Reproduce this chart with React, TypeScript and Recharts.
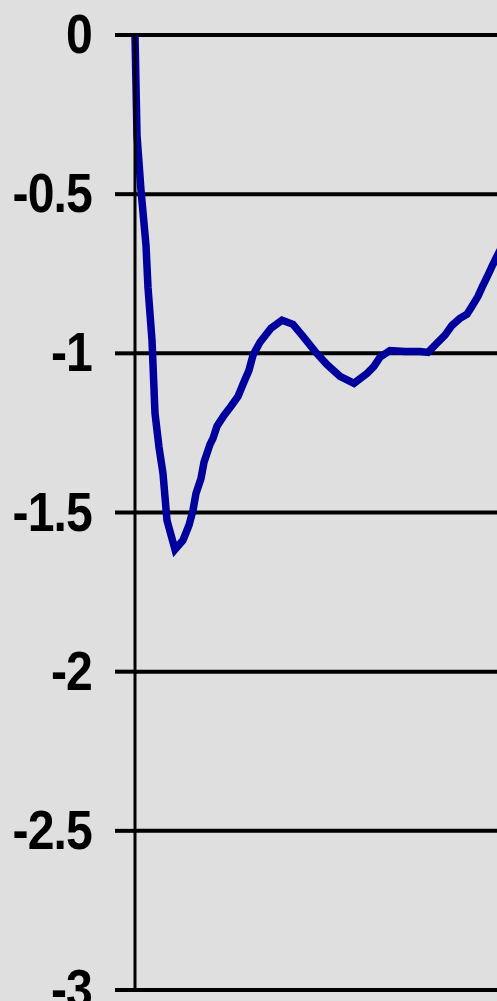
import React from "react";
import { LineChart, Line, XAxis, YAxis, CartesianGrid } from "recharts";

// x positions (arbitrary time units) and values
const xValues: number[] = [
    0, 0.2, 0.6, 1.1, 1.3, 1.7, 2.0, 2.4, 2.8, 3.2, 4.0, 4.8, 5.4, 5.8, 6.1, 6.6, 6.9, 7.5, 7.8, 8.2,
    8.9, 9.6, 10.3, 10.8, 11.4, 11.8, 12.5, 13.6, 14.7, 15.8, 16.8, 18.0, 19.2, 20.5, 21.9, 23.2, 23.9,
    24.5, 25.5, 27.0, 28.5, 29.3, 30.3, 31.0, 31.7, 32.5, 33.2, 33.7, 34.3, 34.7, 35.2, 35.7, 36.2, 37.0,
];

const yValues: number[] = [
    0, -0.315, -0.488, -0.661, -0.793, -0.959, -1.188, -1.295, -1.377, -1.525, -1.616, -1.587, -1.54,
    -1.493, -1.44, -1.393, -1.342, -1.286, -1.267, -1.229, -1.195, -1.166, -1.135, -1.097, -1.053,
    -1.006, -0.965, -0.921, -0.896, -0.909, -0.947, -0.994, -1.035, -1.072, -1.094, -1.063, -1.041,
    -1.012, -0.991, -0.994, -0.994, -0.997, -0.965, -0.943, -0.912, -0.89, -0.877, -0.852, -0.821,
    -0.793, -0.761, -0.727, -0.695, -0.645,
];

const yTicks: number[] = [0, -0.5, -1, -1.5, -2, -2.5, -3];

const data = xValues.map((x, i) => ({ x, y: yValues[i] }));

// narrow bold labels like the old spreadsheet rendering
const YTick = (props: any) => {
    const { x, y, payload } = props;
    return (
        <g transform={`translate(${x},${y})`}>
            <text
                transform="scale(0.86,1)"
                x={0}
                y={0}
                dy={18}
                textAnchor="end"
                fill="#000"
                fontSize={56}
                fontWeight="bold"
                letterSpacing={-1}
                fontFamily="Liberation Sans, Arial, sans-serif"
            >
                {payload.value}
            </text>
        </g>
    );
};

const App: React.FC = () => {
    return (
        <div
            style={{
                position: "absolute",
                top: 0,
                left: 0,
                width: 497,
                height: 1001,
                overflow: "hidden",
                background: "#dfdfdf",
            }}
        >
            <LineChart width={535} height={1001} data={data} margin={{ top: 35, right: 0, bottom: 11, left: 0 }}>
                <CartesianGrid vertical={false} stroke="#000" strokeWidth={4} />
                <XAxis dataKey="x" type="number" domain={[0, 40]} hide />
                <YAxis
                    type="number"
                    domain={[-3, 0]}
                    ticks={yTicks}
                    width={135}
                    tickSize={20}
                    tickMargin={23}
                    axisLine={{ stroke: "#000", strokeWidth: 3 }}
                    tickLine={{ stroke: "#000", strokeWidth: 4 }}
                    tick={<YTick />}
                />
                <Line
                    type="linear"
                    dataKey="y"
                    stroke="#00009c"
                    strokeWidth={7.5}
                    dot={false}
                    isAnimationActive={false}
                />
            </LineChart>
        </div>
    );
};

export default App;
